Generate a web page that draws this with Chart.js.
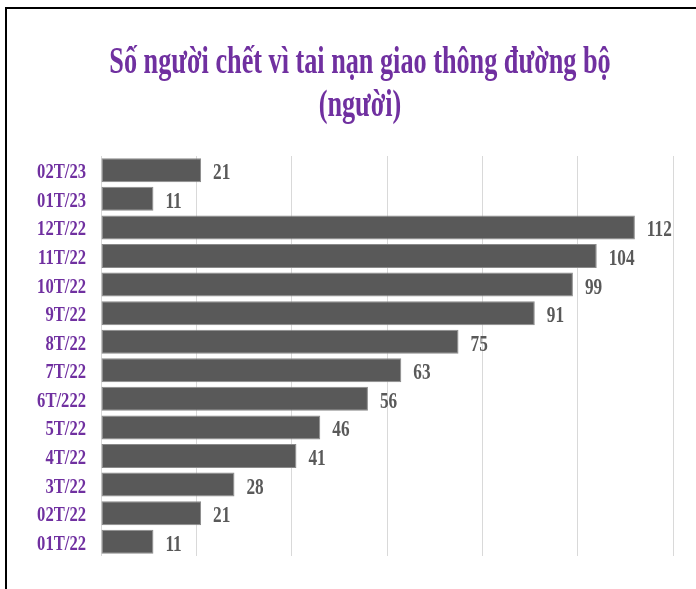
<!DOCTYPE html>
<html lang="vi">
<head>
    <meta charset="UTF-8">
    <title>Số người chết vì tai nạn giao thông đường bộ</title>
    <script src="https://cdn.jsdelivr.net/npm/chart.js@4/dist/chart.umd.min.js"></script>
    <style>
      html, body { margin: 0; padding: 0; background: #fff; }
      #wrap { position: relative; width: 696px; height: 589px; overflow: hidden; }
      #frame {
        position: absolute; left: 5px; top: 7px; right: -10px; bottom: -10px;
        border-left: 2px solid #000; border-top: 2px solid #000;
        pointer-events: none;
      }
    </style>
</head>
<body>
    <div id="wrap">
        <canvas id="myBarChart" width="696" height="589"></canvas>
        <div id="frame"></div>
    </div>

    <script>
        // Dữ liệu (trên xuống dưới)
        const months = ['02T/23', '01T/23', '12T/22', '11T/22', '10T/22', '9T/22', '8T/22',
                        '7T/22', '6T/222', '5T/22', '4T/22', '3T/22', '02T/22', '01T/22'];
        const deaths = [21, 11, 112, 104, 99, 91, 75, 63, 56, 46, 41, 28, 21, 11];
        const titleLines = ['Số người chết vì tai nạn giao thông đường bộ', '(người)'];

        const purple = '#7030A0';
        const barGrey = '#595959';

        // chữ Times bị nén ngang như hình gốc
        function narrowText(ctx, text, x, y, sx, align) {
            ctx.save();
            ctx.translate(x, y);
            ctx.scale(sx, 1);
            ctx.textAlign = align;
            ctx.textBaseline = 'alphabetic';
            ctx.fillText(text, 0, 0);
            ctx.restore();
        }

        const narrowLabels = {
            id: 'narrowLabels',
            afterDraw(chart) {
                const ctx = chart.ctx;
                const yScale = chart.scales.y;
                const meta = chart.getDatasetMeta(0);

                // tiêu đề
                ctx.save();
                ctx.fillStyle = purple;
                ctx.font = 'bold 38px "Liberation Serif"';
                narrowText(ctx, titleLines[0], 360, 73, 0.69, 'center');
                narrowText(ctx, titleLines[1], 360, 116, 0.69, 'center');

                // nhãn tháng
                ctx.font = 'bold 20px "Liberation Serif"';
                months.forEach((m, i) => {
                    narrowText(ctx, m, chart.chartArea.left - 15, yScale.getPixelForValue(i) + 8, 0.83, 'right');
                });

                // giá trị cuối thanh
                ctx.fillStyle = barGrey;
                ctx.font = 'bold 23px "Liberation Serif"';
                meta.data.forEach((bar, i) => {
                    narrowText(ctx, String(deaths[i]), bar.x + 12, bar.y + 9, 0.75, 'left');
                });
                ctx.restore();
            }
        };

        const ctx = document.getElementById('myBarChart').getContext('2d');
        new Chart(ctx, {
            type: 'bar',
            data: {
                labels: months,
                datasets: [{
                    data: deaths,
                    backgroundColor: barGrey,
                    borderColor: '#8a8a8a',
                    borderWidth: 1,
                    borderSkipped: false,
                    barPercentage: 0.84,
                    categoryPercentage: 1.0
                }]
            },
            options: {
                indexAxis: 'y',
                responsive: false,
                animation: false,
                layout: { padding: { top: 156, right: 23, bottom: 33, left: 101 } },
                plugins: {
                    legend: { display: false },
                    tooltip: { enabled: false },
                    title: { display: false }
                },
                scales: {
                    x: {
                        min: 0,
                        max: 120,
                        ticks: { display: false, stepSize: 20 },
                        grid: { color: '#d9d9d9', drawTicks: false },
                        border: { display: false }
                    },
                    y: {
                        display: false
                    }
                }
            },
            plugins: [narrowLabels]
        });
    </script>
</body>
</html>
